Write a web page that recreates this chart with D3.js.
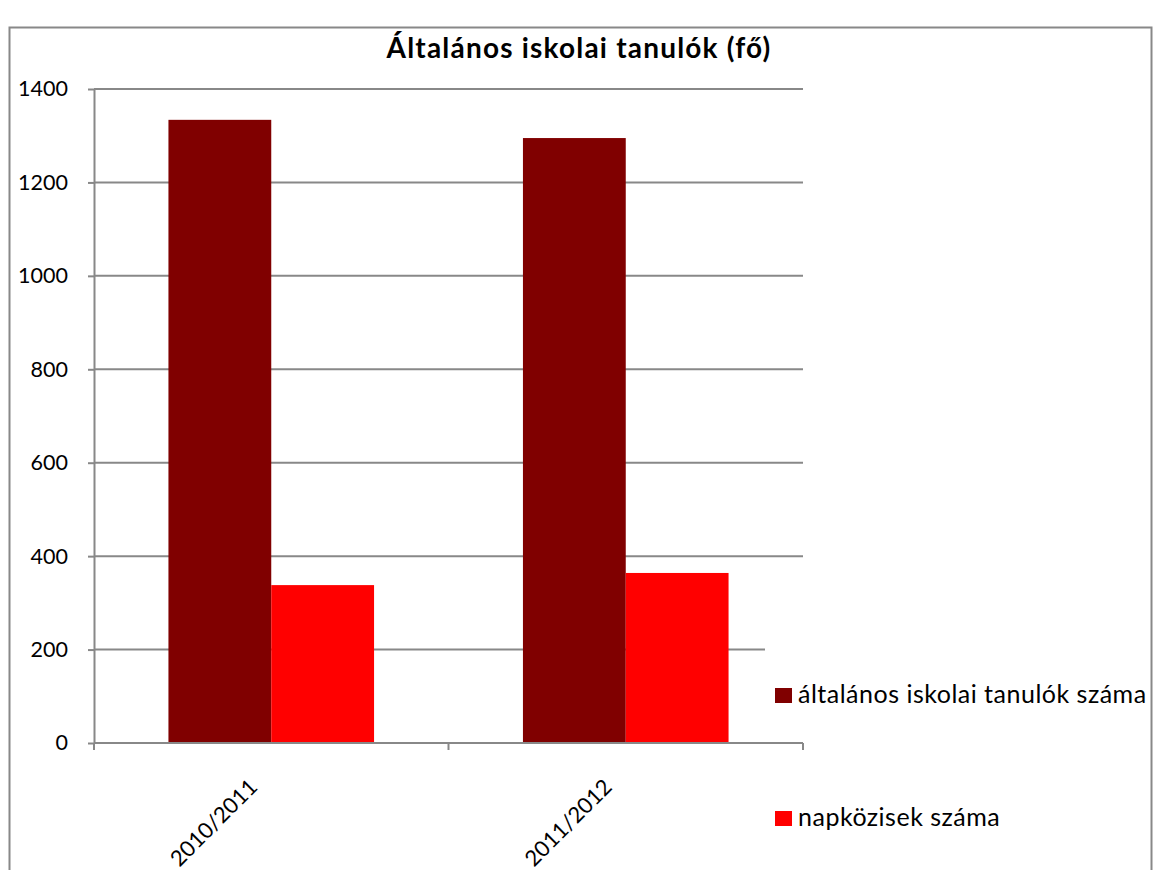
<!DOCTYPE html>
<html>
    <head>
        <meta http-equiv="Content-Type" content="text/html;charset=utf-8">
        <script src="https://d3js.org/d3.v7.min.js"></script>
        <title>Általános iskolai tanulók</title>
        <style>
            body { margin:0; background:#fff; }
            svg { display:block; font-family:Lato, "Open Sans", sans-serif; }
        </style>
    </head>
    <body>
        <svg width="1153" height="870"></svg>
    </body>
    <script>
        // chart data
        var categories = ["2010/2011", "2011/2012"];
        var seriesNames = ["általános iskolai tanulók száma", "napközisek száma"];
        var tanulok = [1334, 1295];
        var napkozisek = [338, 364];
        var yTicks = [0, 200, 400, 600, 800, 1000, 1200, 1400];
        var colors = ["#800000", "#ff0000"];

        var svg = d3.select("svg");

        // outer chart frame
        svg.append("rect")
            .attr("x", 9.5).attr("y", 27.5)
            .attr("width", 1142).attr("height", 900)
            .attr("fill", "none")
            .attr("stroke", "#888")
            .attr("stroke-width", 2);

        svg.append("text")
            .attr("x", 579).attr("y", 58)
            .attr("text-anchor", "middle")
            .attr("font-size", 28)
            .attr("font-weight", "bold")
            .attr("letter-spacing", 1.2)
            .text("Általános iskolai tanulók (fő)");

        var pLeft = 94, pRight = 803, pTop = 89, pBottom = 743;

        var x0 = d3.scaleBand()
            .domain(categories)
            .range([pLeft, pRight])
            .paddingInner(0.42)
            .paddingOuter(0.21);

        var x1 = d3.scaleBand()
            .domain([0, 1])
            .range([0, x0.bandwidth()]);

        var y = d3.scaleLinear()
            .domain([0, 1400])
            .range([pBottom, pTop]);

        // gridlines (the 200 line is cut short by the legend)
        svg.append("g").selectAll("line")
            .data(yTicks.filter(function(d){ return d > 0; }))
            .enter().append("line")
                .attr("x1", pLeft)
                .attr("x2", function(d){ return d == 200 ? 765 : pRight; })
                .attr("y1", function(d){ return y(d); })
                .attr("y2", function(d){ return y(d); })
                .attr("stroke", "#888")
                .attr("stroke-width", 2);

        // bars
        var rows = categories.map(function(c, i){
            return { cat: c, vals: [tanulok[i], napkozisek[i]] };
        });

        var groups = svg.append("g").selectAll("g")
            .data(rows)
            .enter().append("g")
                .attr("transform", function(d){ return "translate(" + x0(d.cat) + ",0)"; });

        groups.selectAll("rect")
            .data(function(d){ return d.vals; })
            .enter().append("rect")
                .attr("x", function(d, i){ return x1(i); })
                .attr("width", x1.bandwidth())
                .attr("y", function(d){ return y(d); })
                .attr("height", function(d){ return y(0) - y(d); })
                .attr("fill", function(d, i){ return colors[i]; });

        // y axis
        var yAxis = svg.append("g")
            .attr("transform", "translate(" + pLeft + ",0)")
            .call(d3.axisLeft(y)
                .tickValues(yTicks)
                .tickFormat(d3.format("d"))
                .tickSize(6).tickSizeOuter(0).tickPadding(20));
        yAxis.select(".domain").attr("stroke", "#888").attr("stroke-width", 2);
        yAxis.selectAll(".tick line").attr("stroke", "#888").attr("stroke-width", 2);
        yAxis.selectAll("text").attr("font-size", 21.5).attr("fill", "#000")
            .attr("font-family", "Lato, sans-serif");

        // x axis
        var xb = d3.scaleBand().domain(categories).range([pLeft, pRight]);
        var xAxis = svg.append("g")
            .attr("transform", "translate(0," + pBottom + ")");
        xAxis.append("line")
            .attr("x1", pLeft).attr("x2", pRight)
            .attr("stroke", "#888").attr("stroke-width", 2);
        xAxis.selectAll("line.tk")
            .data([pLeft, pLeft + xb.bandwidth(), pRight])
            .enter().append("line")
                .attr("class", "tk")
                .attr("x1", function(d){ return d; })
                .attr("x2", function(d){ return d; })
                .attr("y1", 0).attr("y2", 7)
                .attr("stroke", "#888").attr("stroke-width", 2);
        xAxis.selectAll("text")
            .data(categories)
            .enter().append("text")
                .attr("transform", function(d){
                    return "translate(" + (x0(d) + x0.bandwidth() / 2 - 18) + ",40) rotate(-45)";
                })
                .attr("text-anchor", "end")
                .attr("dy", "0.35em")
                .attr("font-size", 22)
                .text(function(d){ return d; });

        // legend
        var legend = svg.append("g").selectAll("g")
            .data(seriesNames)
            .enter().append("g")
                .attr("transform", function(d, i){ return "translate(775," + (688 + i * 123) + ")"; });
        legend.append("rect")
            .attr("width", 17).attr("height", 15)
            .attr("fill", function(d, i){ return colors[i]; });
        legend.append("text")
            .attr("x", 23).attr("y", 15)
            .attr("font-size", 25)
            .attr("letter-spacing", 0.5)
            .text(function(d){ return d; });
    </script>
</html>
